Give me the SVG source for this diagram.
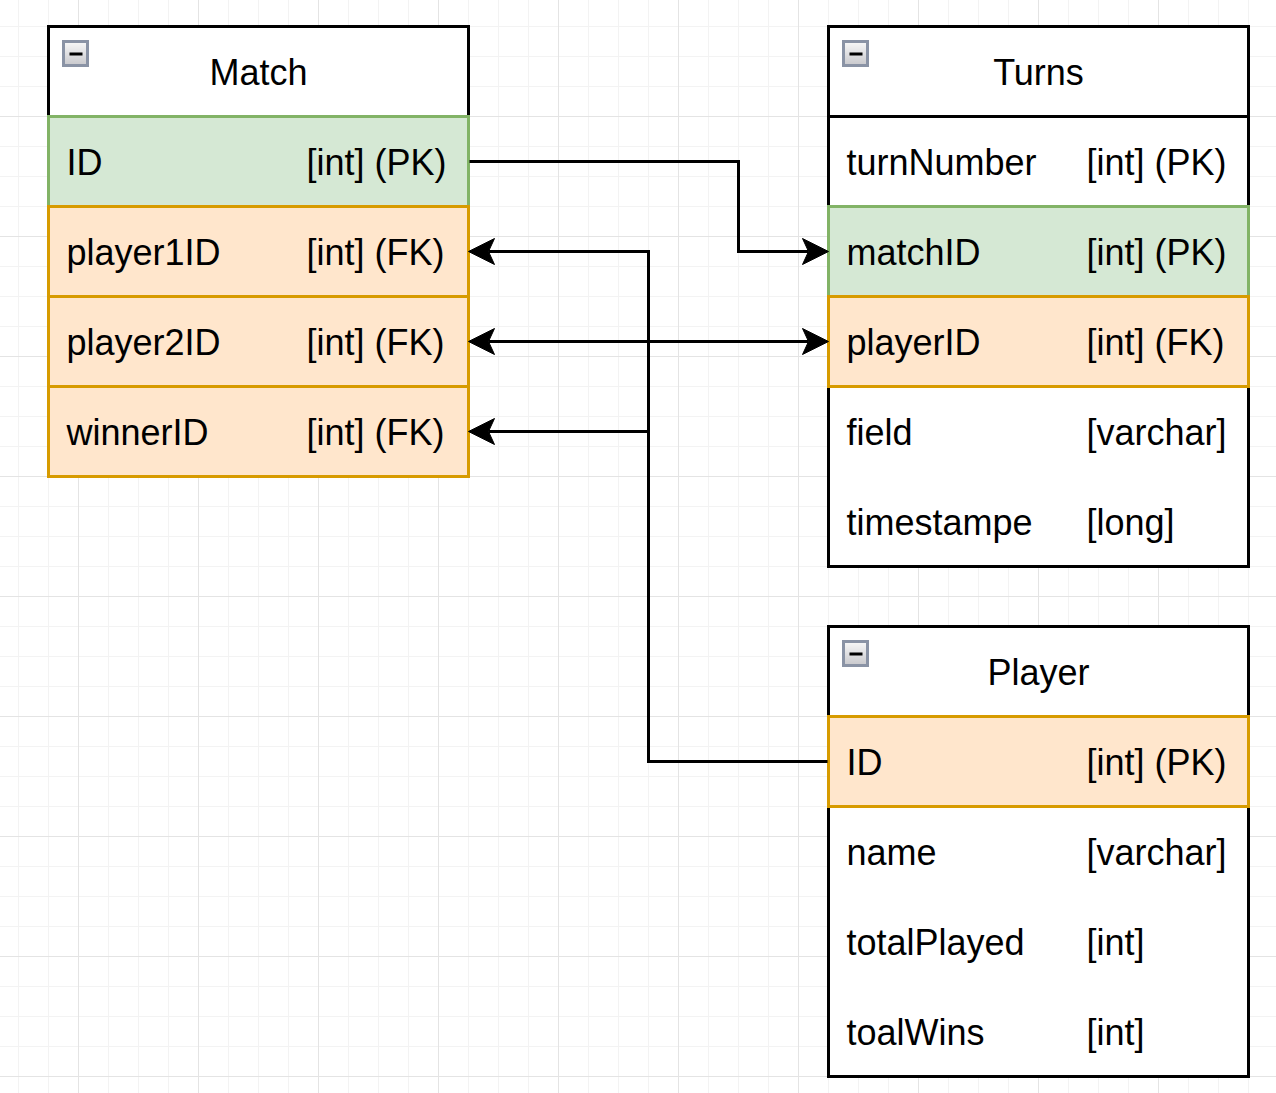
<svg xmlns="http://www.w3.org/2000/svg" width="1276" height="1093" viewBox="0 0 1276 1093">
<defs>
<pattern id="grid" patternUnits="userSpaceOnUse" x="78" y="116" width="120" height="120">
<path d="M30.5,0V120M60.5,0V120M90.5,0V120M0,30.5H120M0,60.5H120M0,90.5H120" stroke="#f3f3f3" stroke-width="1" fill="none"/>
<path d="M0.5,0V120M0,0.5H120" stroke="#e4e4e4" stroke-width="1" fill="none"/>
</pattern>
<linearGradient id="btn" x1="0" y1="0" x2="0" y2="1">
<stop offset="0" stop-color="#f8f8f8"/>
<stop offset="1" stop-color="#c8c8cc"/>
</linearGradient>
<marker id="arr" markerUnits="userSpaceOnUse" viewBox="-8 -15 30 30" refX="0" refY="0" markerWidth="30" markerHeight="30" orient="auto-start-reverse">
<path d="M20,0 L-6,-13 L0,0 L-6,13 Z" fill="#000" stroke="#000" stroke-width="1"/>
</marker>
<g id="collapse">
<rect x="0" y="0" width="24" height="24" fill="url(#btn)" stroke="#8a93a5" stroke-width="3"/>
<path d="M6,12.5H19" stroke="#000" stroke-width="3"/>
</g>
</defs>
<style>
.box{fill:#fff;stroke:#000;stroke-width:3}
.pk{fill:#d5e8d4;stroke:#82b366;stroke-width:3}
.fk{fill:#ffe6cc;stroke:#d79b00;stroke-width:3}
.sep{stroke:#000;stroke-width:3}
text{font-family:"Liberation Sans",Arial,sans-serif;font-size:36px;fill:#000}
.title{text-anchor:middle}
.edge{fill:none;stroke:#000;stroke-width:3}
</style>
<rect width="1276" height="1093" fill="#fff"/>
<rect width="1276" height="1093" fill="url(#grid)"/>

<g transform="translate(0.5,0.5)">
<g id="match">
<rect class="box" x="48" y="26" width="420" height="450"/>
<line class="sep" x1="48" y1="116" x2="468" y2="116"/>
<use href="#collapse" x="63" y="41"/>
<text class="title" x="258" y="84">Match</text>
<rect class="pk" x="48" y="116" width="420" height="90"/>
<rect class="fk" x="48" y="206" width="420" height="90"/>
<rect class="fk" x="48" y="296" width="420" height="90"/>
<rect class="fk" x="48" y="386" width="420" height="90"/>
<text x="66" y="174">ID</text><text x="306" y="174">[int] (PK)</text>
<text x="66" y="264">player1ID</text><text x="306" y="264">[int] (FK)</text>
<text x="66" y="354">player2ID</text><text x="306" y="354">[int] (FK)</text>
<text x="66" y="444">winnerID</text><text x="306" y="444">[int] (FK)</text>
</g>

<g id="turns">
<rect class="box" x="828" y="26" width="420" height="540"/>
<line class="sep" x1="828" y1="116" x2="1248" y2="116"/>
<use href="#collapse" x="843" y="41"/>
<text class="title" x="1038" y="84">Turns</text>
<rect class="pk" x="828" y="206" width="420" height="90"/>
<rect class="fk" x="828" y="296" width="420" height="90"/>
<text x="846" y="174">turnNumber</text><text x="1086" y="174">[int] (PK)</text>
<text x="846" y="264">matchID</text><text x="1086" y="264">[int] (PK)</text>
<text x="846" y="354">playerID</text><text x="1086" y="354">[int] (FK)</text>
<text x="846" y="444">field</text><text x="1086" y="444">[varchar]</text>
<text x="846" y="534">timestampe</text><text x="1086" y="534">[long]</text>
</g>

<g id="player">
<rect class="box" x="828" y="626" width="420" height="450"/>
<line class="sep" x1="828" y1="716" x2="1248" y2="716"/>
<use href="#collapse" x="843" y="641"/>
<text class="title" x="1038" y="684">Player</text>
<rect class="fk" x="828" y="716" width="420" height="90"/>
<text x="846" y="774">ID</text><text x="1086" y="774">[int] (PK)</text>
<text x="846" y="864">name</text><text x="1086" y="864">[varchar]</text>
<text x="846" y="954">totalPlayed</text><text x="1086" y="954">[int]</text>
<text x="846" y="1044">toalWins</text><text x="1086" y="1044">[int]</text>
</g>

<g id="connectors">
<path class="edge" d="M469,161 H738 V251 H808" marker-end="url(#arr)"/>
<path class="edge" d="M827,761 H648 V251 H488" marker-end="url(#arr)"/>
<path class="edge" d="M648,431 H488" marker-end="url(#arr)"/>
<path class="edge" d="M488,341 H808" marker-start="url(#arr)" marker-end="url(#arr)"/>
</g>
</g>
</svg>
